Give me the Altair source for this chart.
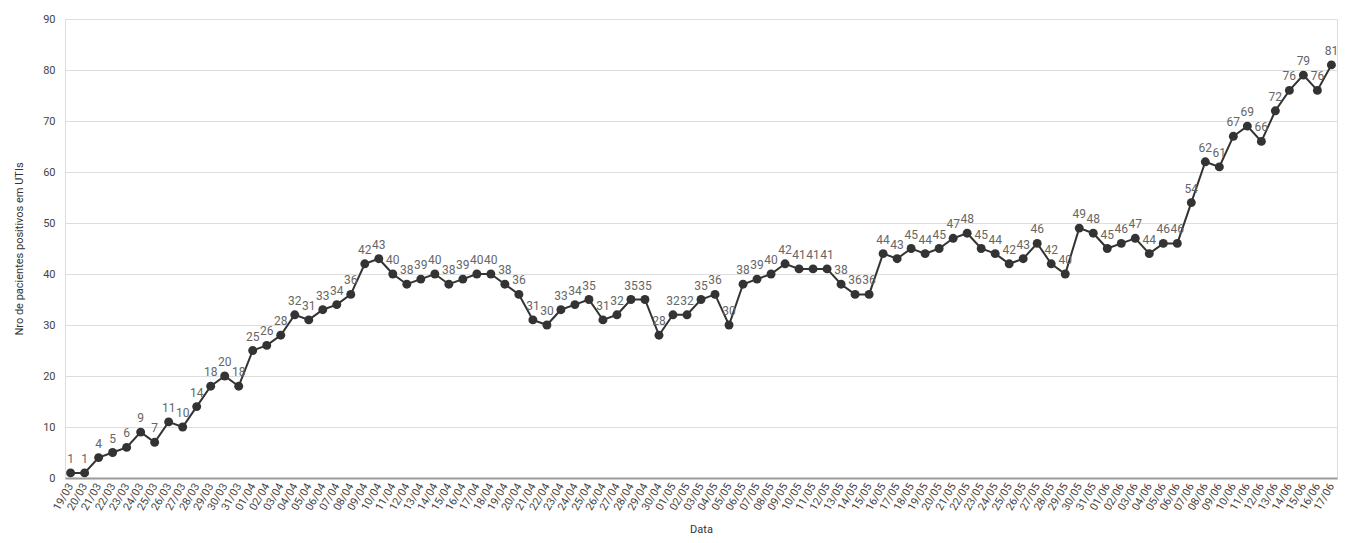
import altair as alt
import pandas as pd

mar = [1,1,4,5,6,9,7,11,10,14,18,20,18]
apr = [25,26,28,32,31,33,34,36,42,43,40,38,39,40,38,39,40,40,38,36,31,30,33,34,35,31,32,35,35,28]
may = [32,32,35,36,30,38,39,40,42,41,41,41,38,36,36,44,43,45,44,45,47,48,45,44,42,43,46,42,40,49,48]
jun = [45,46,47,44,46,46,54,62,61,67,69,66,72,76,79,76,81]

dates = ([f"{d:02d}/03" for d in range(19, 32)] + [f"{d:02d}/04" for d in range(1, 31)]
         + [f"{d:02d}/05" for d in range(1, 32)] + [f"{d:02d}/06" for d in range(1, 18)])
vals = mar + apr + may + jun
df = pd.DataFrame({"Data": dates, "v": vals})

x = alt.X("Data:N", sort=None, title="Data",
          scale=alt.Scale(type="point", padding=0.4),
          axis=alt.Axis(labelAngle=-60, labelFontSize=11, labelColor="#444", titleFontSize=11,
                        titleFontWeight="normal", titleColor="#333", domainColor="#999", domainWidth=2,
                        ticks=False, grid=False, titlePadding=12, labelPadding=6))
y = alt.Y("v:Q", title="Nro de pacientes positivos em UTIs",
          scale=alt.Scale(domain=[0, 90]),
          axis=alt.Axis(values=list(range(0, 91, 10)), labelFontSize=11, labelColor="#444",
                        titleFontSize=11, titleFontWeight="normal", titleColor="#333",
                        domain=False, ticks=False, gridColor="#ddd", titlePadding=18, labelPadding=10))

base = alt.Chart(df).encode(x=x, y=y)
line = base.mark_line(color="#333", strokeWidth=2)
pts = base.mark_circle(color="#333", size=80, opacity=1)
txt = base.mark_text(dy=-14, fontSize=12, color="#666").encode(text="v:Q")

chart = (line + pts + txt).properties(width=1272, height=459).configure_view(stroke=None).configure(font="Roboto")
chart.save("out.html", embed_options={"renderer": "svg", "actions": False})
